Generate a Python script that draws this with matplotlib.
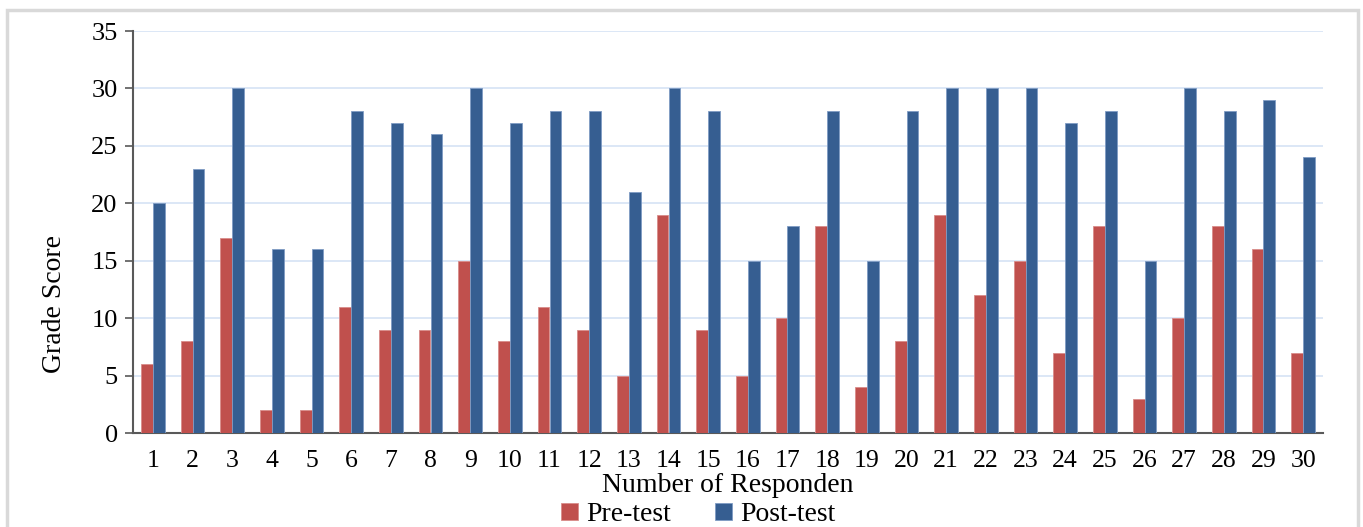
import matplotlib.pyplot as plt
import numpy as np
from matplotlib.patches import Rectangle

plt.rcParams['font.family'] = ['Liberation Serif', 'DejaVu Serif']

respondents = [str(i) for i in range(1, 31)]
pre_test = [6, 8, 17, 2, 2, 11, 9, 9, 15, 8, 11, 9, 5, 19, 9,
            5, 10, 18, 4, 8, 19, 12, 15, 7, 18, 3, 10, 18, 16, 7]
post_test = [20, 23, 30, 16, 16, 28, 27, 26, 30, 27, 28, 28, 21, 30, 28,
             15, 18, 28, 15, 28, 30, 30, 30, 27, 28, 15, 30, 28, 29, 24]

W, H = 1363, 527
fig = plt.figure(figsize=(W / 100, H / 100), dpi=100)
# chart area border (cut at the bottom like the reference)
fig.patches.append(Rectangle((7 / W, -0.05), 1351 / W, 1.05 - 10 / H,
                             transform=fig.transFigure, fill=False,
                             edgecolor='#D9D9D9', linewidth=2.5))

ax = fig.add_axes([133 / W, 1 - 433 / H, (1323 - 133) / W, (433 - 31) / H])

x = np.arange(len(respondents))
bw = 0.3
ax.bar(x - bw / 2, pre_test, bw, color='#C0504D', edgecolor='#D98C8A',
       linewidth=0.6, label='Pre-test', zorder=3)
ax.bar(x + bw / 2, post_test, bw, color='#365E91', edgecolor='#7F9CC4',
       linewidth=0.6, label='Post-test', zorder=3)

ax.set_xlim(-0.5, len(respondents) - 0.5)
ax.set_ylim(0, 35)
ax.set_yticks(range(0, 36, 5))
ax.set_xticks(x)
ax.set_xticklabels(respondents)
ax.tick_params(axis='x', length=0, pad=12, labelsize=18.5)
ax.tick_params(axis='y', length=6, width=1.2, color='#595959', pad=5, labelsize=19)
ax.yaxis.grid(True, color='#D6E3F5', linewidth=1.2, zorder=0)

for side in ['top', 'right']:
    ax.spines[side].set_visible(False)
for side in ['left', 'bottom']:
    ax.spines[side].set_color('#595959')
    ax.spines[side].set_linewidth(1.5)

ax.set_xlabel('Number of Responden', fontsize=20, labelpad=1)
ax.set_ylabel('Grade Score', fontsize=20)
ax.yaxis.set_label_coords(-0.0555, 0.32)

ax.legend(loc='upper center', bbox_to_anchor=(0.475, -0.172), ncol=2,
          frameon=False, fontsize=20, handlelength=0.6, handleheight=0.6,
          handletextpad=0.3, columnspacing=1.6, borderaxespad=0,
          borderpad=0)

fig.savefig('out.png', dpi=100)
